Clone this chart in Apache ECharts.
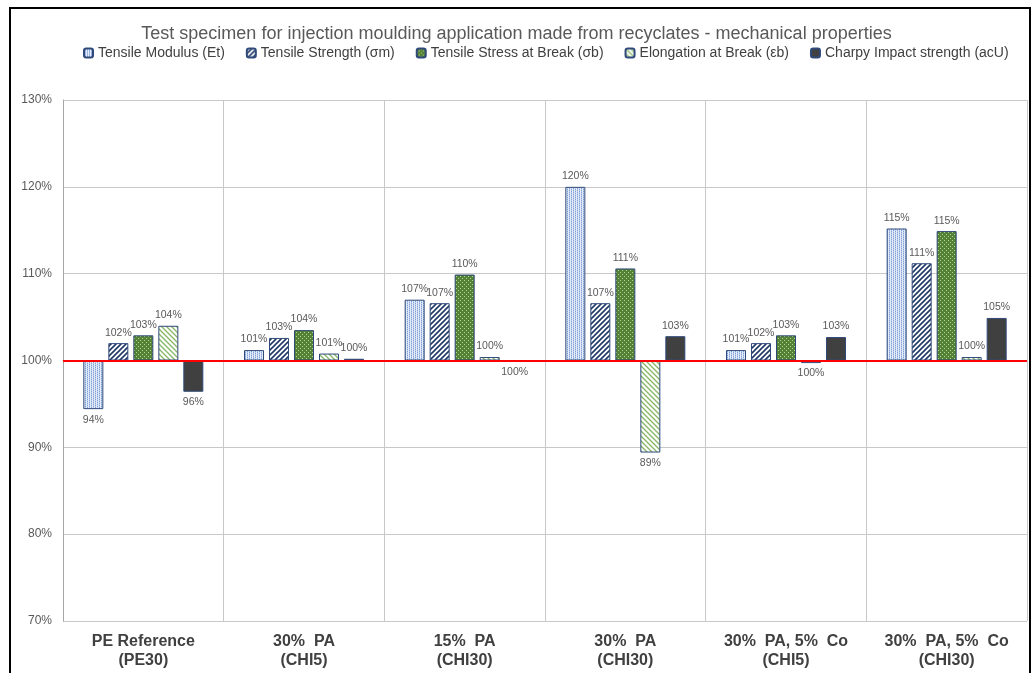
<!DOCTYPE html>
<html><head><meta charset="utf-8">
<script src="https://cdn.jsdelivr.net/npm/echarts@6/dist/echarts.min.js"></script>
<style>html,body{margin:0;padding:0;background:#fff}#c{width:1033px;height:673px}</style>
</head><body><div id="c"></div>
<script>
const title = 'Test specimen for injection moulding application made from recyclates - mechanical properties';
const categories = ['PE Reference\n(PE30)', '30%  PA\n(CHI5)', '15%  PA\n(CHI30)', '30%  PA\n(CHI30)', '30%  PA, 5%  Co\n(CHI5)', '30%  PA, 5%  Co\n(CHI30)'];
const seriesNames = ['Tensile Modulus (Et)', 'Tensile Strength (σm)', 'Tensile Stress at Break (σb)', 'Elongation at Break (εb)', 'Charpy Impact strength (acU)'];
const tensileModulus  = [94.4, 101.2, 107.0, 120.0, 101.2, 115.2];
const tensileStrength = [102.0, 102.6, 106.6, 106.6, 102.0, 111.2];
const stressAtBreak   = [102.9, 103.5, 109.9, 110.6, 102.9, 114.9];
const elongation      = [104.0, 100.8, 100.4, 89.4, 99.7, 100.4];
const charpy          = [96.4, 100.2, 99.9, 102.8, 102.7, 104.9];
const yTicks = [70, 80, 90, 100, 110, 120, 130];
const baseline = 100;

function pat(w, h, draw) {
  const c = document.createElement('canvas'); c.width = w; c.height = h;
  const g = c.getContext('2d'); draw(g, w, h);
  return { image: c, repeat: 'repeat' };
}
const p1 = pat(4, 2, (g) => { g.fillStyle = '#e4ecf8'; g.fillRect(0,0,4,2); g.fillStyle = '#7f9fd6'; g.fillRect(1,0,1,1); g.fillRect(3,1,1,1); g.fillStyle='#b7cbeb'; g.fillRect(1,1,1,1); g.fillRect(3,0,1,1);});
const p2 = pat(5, 5, (g) => { g.fillStyle = '#ffffff'; g.fillRect(0,0,5,5); g.strokeStyle = '#203864'; g.lineWidth = 1.6;
  g.beginPath(); g.moveTo(-1,1); g.lineTo(1,-1); g.moveTo(0,5); g.lineTo(5,0); g.moveTo(4,6); g.lineTo(6,4); g.stroke(); });
const p3 = pat(4, 4, (g) => { g.fillStyle = '#548235'; g.fillRect(0,0,4,4); g.fillStyle = '#b5d2a0'; g.fillRect(0,0,1,1); g.fillRect(2,2,1,1); });
const p4 = pat(5, 5, (g) => { g.fillStyle = '#ffffff'; g.fillRect(0,0,5,5); g.strokeStyle = '#86b563'; g.lineWidth = 1.3;
  g.beginPath(); g.moveTo(0,0); g.lineTo(5,5); g.moveTo(-1,4); g.lineTo(1,6); g.moveTo(4,-1); g.lineTo(6,1); g.stroke(); });
const fills = [p1, p2, p3, p4, '#404040'];
const allData = [tensileModulus, tensileStrength, stressAtBreak, elongation, charpy];

const font = 'Liberation Sans, Arial, sans-serif';
const series = allData.map((arr, i) => ({
  name: seriesNames[i],
  type: 'bar',
  barWidth: 20,
  barGap: '25%',
  itemStyle: { color: fills[i], borderColor: '#2f4a7a', borderWidth: 1 },
  data: arr.map(v => ({
    value: v - baseline, raw: v,
    label: { position: v >= baseline ? 'top' : 'bottom' }
  })),
  label: {
    show: true, distance: 5, fontFamily: font, fontSize: 10.5, color: '#595959',
    formatter: (p) => Math.round(p.data.raw) + '%'
  },
  markLine: i === 0 ? {
    silent: true, symbol: 'none', label: { show: false },
    lineStyle: { color: '#ff0000', width: 2, type: 'solid' },
    data: [{ yAxis: 0 }], z: 10
  } : undefined
}));

const chart = echarts.init(document.getElementById('c'), null, { renderer: 'canvas' });
chart.setOption({
  animation: false,
  backgroundColor: '#ffffff',
  title: { text: title, left: 'center', top: 20, textStyle: { fontFamily: font, fontSize: 18, fontWeight: 'normal', color: '#595959' } },
  legend: {
    top: 41, left: 78, itemWidth: 9, itemHeight: 9, itemGap: 21,
    textStyle: { fontFamily: font, fontSize: 14, color: '#404040' },
    data: seriesNames
  },
  grid: { left: 63, right: 6, top: 100, bottom: 52, containLabel: false },
  xAxis: {
    type: 'category', data: categories,
    axisLine: { lineStyle: { color: '#a6a6a6', width: 1 } },
    axisTick: { show: false },
    splitLine: { show: true, interval: 0, lineStyle: { color: '#c8c8c8', width: 1 } },
    axisLabel: { interval: 0, fontFamily: font, fontSize: 16, fontWeight: 'bold', color: '#404040', lineHeight: 19, margin: 11 }
  },
  yAxis: {
    type: 'value', min: yTicks[0] - baseline, max: yTicks[yTicks.length - 1] - baseline, interval: 10,
    axisLine: { show: true, lineStyle: { color: '#a6a6a6' } },
    axisTick: { show: false },
    splitLine: { lineStyle: { color: '#c8c8c8', width: 1 } },
    axisLabel: { fontFamily: font, fontSize: 12, color: '#595959', margin: 11, formatter: (v) => (v + baseline) + '%' }
  },
  graphic: [{ type: 'rect', shape: { x: 10, y: 8, width: 1020, height: 700 }, style: { fill: 'none', stroke: '#000', lineWidth: 2 }, silent: true, z: 100 }],
  series
});
</script></body></html>
